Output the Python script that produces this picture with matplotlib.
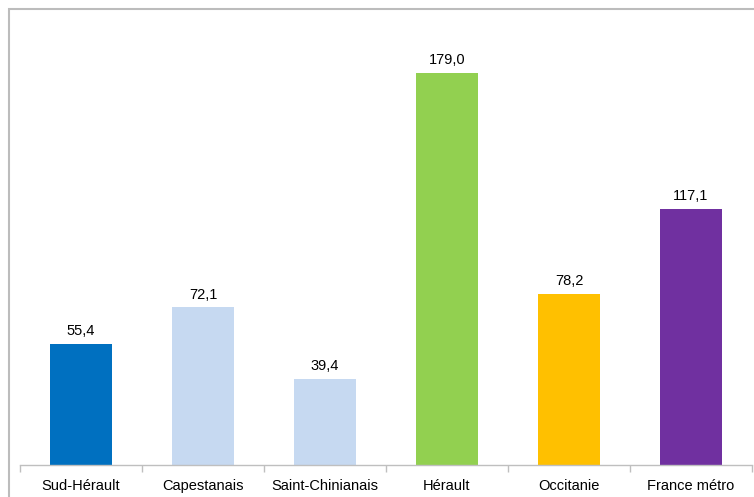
import numpy as np
import matplotlib.pyplot as plt
from matplotlib.patches import Rectangle

territoires = ["Sud-Hérault", "Capestanais", "Saint-Chinianais", "Hérault", "Occitanie", "France métro"]
valeurs = [55.4, 72.1, 39.4, 179.0, 78.2, 117.1]
couleurs = ["#0070C0", "#C6D9F1", "#C6D9F1", "#92D050", "#FFC000", "#7030A0"]

plt.rcParams["font.family"] = ["Liberation Sans", "DejaVu Sans"]

fig = plt.figure(figsize=(7.54, 4.97), dpi=100)
ax = fig.add_axes([20 / 754, 1 - 465 / 497, 732 / 754, (465 - 27) / 497])

x = np.arange(len(territoires))
ax.bar(x, valeurs, width=0.51, color=couleurs, zorder=2)

for xi, v in zip(x, valeurs):
    ax.annotate(f"{v:.1f}".replace(".", ","), (xi, v), xytext=(0, 4),
                textcoords="offset points", ha="center", va="bottom",
                fontsize=10.5, color="#000000")

ax.set_xlim(-0.5, len(territoires) - 0.5)
ax.set_ylim(0, 200)
ax.set_xticks(x)
ax.set_xticklabels(territoires, fontsize=10.5)
ax.set_xticks(np.arange(-0.5, len(territoires)), minor=True)
ax.tick_params(axis="x", which="major", length=0, pad=10)
ax.tick_params(axis="x", which="minor", length=5, color="#bfbfbf", width=1)
ax.set_yticks([])
for side in ["top", "right", "left"]:
    ax.spines[side].set_visible(False)
ax.spines["bottom"].set_color("#bfbfbf")
ax.spines["bottom"].set_linewidth(1)

# cadre gris autour du graphique
fig.patches.append(Rectangle((8.5 / 754, -0.1), 1.2, 1 - 8.5 / 497 + 0.1,
                             transform=fig.transFigure, fill=False,
                             edgecolor="#bcbcbc", linewidth=1.5))

fig.savefig("out.png", dpi=100)
